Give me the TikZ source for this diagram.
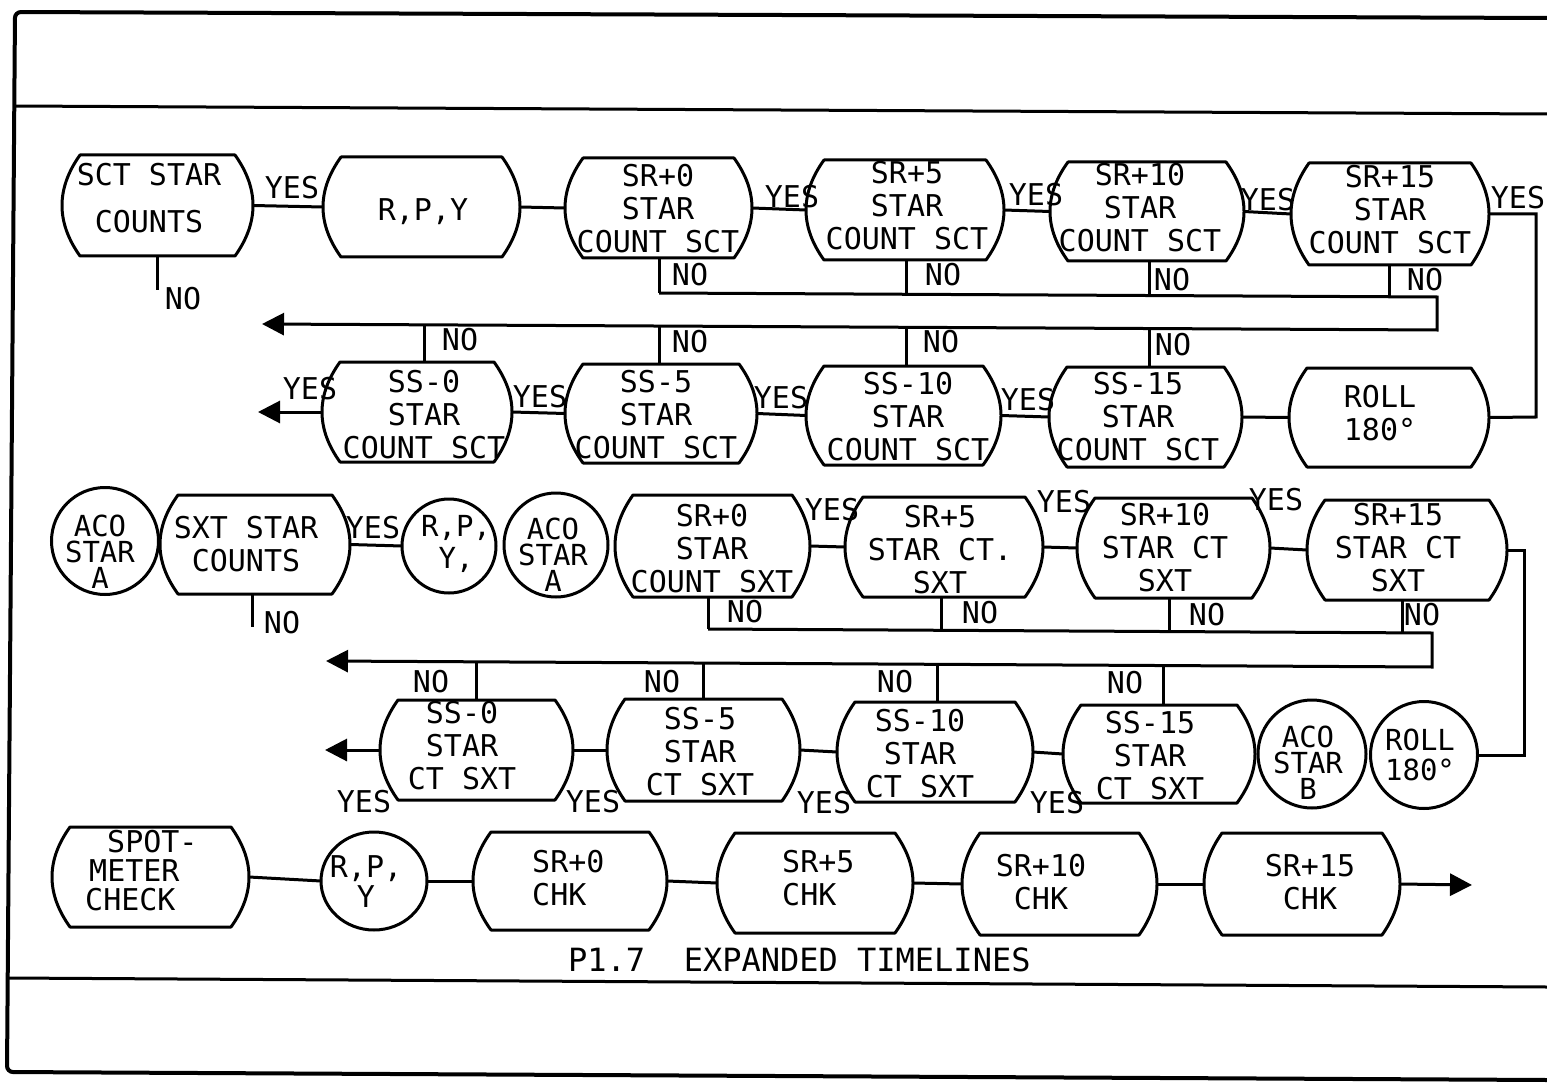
\documentclass[tikz,border=0pt]{standalone}
\usepackage{fontspec}
\newfontfamily\dmono{DejaVu Sans Mono}
\usetikzlibrary{calc,arrows.meta,shapes.geometric}
\def\bxins{18}
\newcommand\PBx[9][]{%
 \node[boxn, minimum width={#5-#3}, minimum height={#6-#4}] (#2) at ({(#3+#5)/2},{(#4+#6)/2}) {};
 \node[txt,#1] (#2t) at (#7,#8) {#9};
 \draw[outl] ($(#2.north west)+(\bxins,0)$) -- ($(#2.north east)+(-\bxins,0)$)
   .. controls ($(#2.north east)+({\bxins/3},{(#6-#4)/3})$) and ($(#2.south east)+({\bxins/3},{-(#6-#4)/3})$) .. ($(#2.south east)+(-\bxins,0)$)
   -- ($(#2.south west)+(\bxins,0)$)
   .. controls ($(#2.south west)+({-\bxins/3},{-(#6-#4)/3})$) and ($(#2.north west)+({-\bxins/3},{(#6-#4)/3})$) .. cycle;
}
\newcommand\CBx[7]{%
 \node[circn, minimum size=#4] (#1) at (#2,#3) {};
 \node[ctxt] (#1t) at (#5,#6) {#7};
}
\newcommand\LBx[4]{\node[lab] (#1) at (#2,#3) {#4};}
\tikzset{
 ln/.style={line width=3pt},
 frm/.style={line width=4pt},
 frm2/.style={line width=3pt},
 outl/.style={line width=3pt, line join=round},
 boxn/.style={rectangle, inner sep=0pt, outer sep=0pt},
 circn/.style={circle, draw, line width=3pt, inner sep=0pt, outer sep=0pt},
 txt/.style={inner sep=0pt, align=center, font=\dmono\fontsize{30}{33}\selectfont},
 ctxt/.style={inner sep=0pt, align=center, font=\dmono\fontsize{29}{26}\selectfont},
 lab/.style={inner sep=0pt, font=\dmono\fontsize{30}{33}\selectfont},
 arr/.style={ln, -{Triangle[length=22pt,width=22pt]}},
}
\begin{document}
\begin{tikzpicture}[x=1pt,y=-1pt]
\useasboundingbox (0,0) rectangle (1547,1083);
\fill[white] (0,0) rectangle (1547,1083);
% frame
\draw[frm, rounded corners=6pt] (1547,18) -- (15,12) -- (7,1072) -- (1547,1080);
\draw[frm2] (14,106) -- (1547,114);
\draw[frm2] (8,978) -- (1547,987);

% ---------- row 1 (SCT) ----------
\PBx{sct}{62}{155}{253}{256}{149}{198.5}{SCT STAR\\[14pt]COUNTS}
\PBx{rpy}{323}{157}{520}{257}{423}{212}{R,P,Y}
\PBx{sra}{565}{158}{752}{258}{658}{209}{SR+0\\STAR\\COUNT SCT}
\PBx{srb}{806}{160}{1004}{260}{907}{206}{SR+5\\STAR\\COUNT SCT}
\PBx{src}{1050}{162}{1244}{261}{1140}{208}{SR+10\\STAR\\COUNT SCT}
\PBx{srd}{1291}{163}{1489}{265}{1390}{210}{SR+15\\STAR\\COUNT SCT}

\PBx{ssa}{322}{362}{512}{462}{424}{415}{SS-0\\STAR\\COUNT SCT}
\PBx{ssb}{565}{364}{757}{463}{656}{415}{SS-5\\STAR\\COUNT SCT}
\PBx{ssc}{806}{366}{1001}{465}{908}{417}{SS-10\\STAR\\COUNT SCT}
\PBx{ssd}{1049}{367}{1242}{467}{1138}{417}{SS-15\\STAR\\COUNT SCT}
\PBx{roll}{1289}{368}{1489}{467}{1380}{413}{ROLL\\180°}

\draw[ln] (sct.east) -- (rpy.west);
\draw[ln] (rpy.east) -- (sra.west);
\draw[ln] (sra.east) -- (srb.west);
\draw[ln] (srb.east) -- (src.west);
\draw[ln] (src.east) -- (srd.west);
\coordinate (ra) at (1536,214);
\coordinate (rb) at (1536,417);
\draw[ln] (srd.east) -- (ra) -- (rb) -- (roll.east);
\draw[ln] (roll.west) -- (ssd.east);
\draw[ln] (ssd.west) -- (ssc.east);
\draw[ln] (ssc.west) -- (ssb.east);
\draw[ln] (ssb.west) -- (ssa.east);
\coordinate (ya) at (258,412);
\draw[arr] (ssa.west) -- (ya);

\coordinate (scn) at (157,290);
\draw[ln] (scn |- sct.south) -- (scn);

\coordinate (ua) at (659,293);
\coordinate (ub) at (906,294.3);
\coordinate (uc) at (1149,295.5);
\coordinate (ud) at (1389,296.8);
\coordinate (ue) at (1437,297);
\coordinate (le) at (1437,330);
\coordinate (la) at (262,324);
\draw[ln] (ua |- sra.south) -- (ua);
\draw[ln] (ub |- srb.south) -- (ub);
\draw[ln] (uc |- src.south) -- (uc);
\draw[ln] (ud |- srd.south) -- (ud);
\draw[arr] (ua) -- (ue) -- (le) -- (la);
\coordinate (lv1) at (424,324.8);
\coordinate (lv2) at (659,326.0);
\coordinate (lv3) at (906,327.3);
\coordinate (lv4) at (1149,328.5);
\draw[ln] (lv1) -- (lv1 |- ssa.north);
\draw[ln] (lv2) -- (lv2 |- ssb.north);
\draw[ln] (lv3) -- (lv3 |- ssc.north);
\draw[ln] (lv4) -- (lv4 |- ssd.north);

\LBx{y1}{292}{188}{YES}
\LBx{y2}{792}{197}{YES}
\LBx{y3}{1036}{195}{YES}
\LBx{y4}{1268}{200}{YES}
\LBx{y5}{1518}{198}{YES}
\LBx{y6}{310}{389}{YES}
\LBx{y7}{540}{397}{YES}
\LBx{y8}{781}{398}{YES}
\LBx{y9}{1028}{400}{YES}
\LBx{n1}{183}{299}{NO}
\LBx{n2}{690}{275}{NO}
\LBx{n3}{943}{275}{NO}
\LBx{n4}{1172}{280}{NO}
\LBx{n5}{1425}{280}{NO}
\LBx{n6}{460}{340}{NO}
\LBx{n7}{690}{342}{NO}
\LBx{n8}{941}{342}{NO}
\LBx{n9}{1173}{345}{NO}

% ---------- row 3 (SXT) ----------
\CBx{acoa}{105}{541}{107}{100}{552}{ACO\\STAR\\A}
\PBx{sxt}{160}{495}{350}{594}{246}{544}{SXT STAR\\COUNTS}
\CBx{rpyc}{449}{546}{94}{456}{544}{R,P,\\[6pt]Y,}
\CBx{acob}{556}{545}{104}{553}{555}{ACO\\STAR\\A}
\PBx{sxa}{615}{495}{810}{597}{712}{549}{SR+0\\STAR\\COUNT SXT}
\PBx{sxb}{845}{497}{1043}{597}{940}{550}{SR+5\\STAR CT.\\SXT}
\PBx{sxc}{1077}{498}{1270}{598}{1165}{548}{SR+10\\STAR CT\\SXT}
\PBx{sxd}{1307}{500}{1507}{600}{1398}{548}{SR+15\\STAR CT\\SXT}

\PBx{sya}{380}{700}{573}{800}{462}{746}{SS-0\\STAR\\CT SXT}
\PBx{syb}{607}{699}{800}{801}{700}{752}{SS-5\\STAR\\CT SXT}
\PBx{syc}{837}{702}{1033}{802}{920}{754}{SS-10\\STAR\\CT SXT}
\PBx{syd}{1063}{705}{1255}{803}{1150}{756}{SS-15\\STAR\\CT SXT}
\CBx{acoc}{1312}{754}{108}{1308}{763}{ACO\\STAR\\B}
\CBx{rollb}{1424}{755}{107}{1420}{755}{ROLL\\[4pt]180°}

\draw[ln] (sxt.east) -- (rpyc.west);
\coordinate (sxn) at (252,627);
\draw[ln] (sxn |- sxt.south) -- (sxn);
\draw[ln] (sxa.east) -- (sxb.west);
\draw[ln] (sxb.east) -- (sxc.west);
\draw[ln] (sxc.east) -- (sxd.west);
\coordinate (rc) at (1524,550);
\coordinate (rd) at (1524,755);
\draw[ln] (sxd.east) -- (rc) -- (rd) -- (rollb.east);

\coordinate (va) at (708,629);
\coordinate (vb) at (941,630.3);
\coordinate (vc) at (1169,631.5);
\coordinate (vd) at (1402,632.8);
\coordinate (ve) at (1432,633);
\coordinate (me) at (1432,667);
\coordinate (ma) at (326,661);
\draw[ln] (va |- sxa.south) -- (va);
\draw[ln] (vb |- sxb.south) -- (vb);
\draw[ln] (vc |- sxc.south) -- (vc);
\draw[ln] (vd |- sxd.south) -- (vd);
\draw[arr] (va) -- (ve) -- (me) -- (ma);
\coordinate (mv1) at (476,661.8);
\coordinate (mv2) at (703,663.0);
\coordinate (mv3) at (937,664.3);
\coordinate (mv4) at (1163,665.5);
\draw[ln] (mv1) -- (mv1 |- sya.north);
\draw[ln] (mv2) -- (mv2 |- syb.north);
\draw[ln] (mv3) -- (mv3 |- syc.north);
\draw[ln] (mv4) -- (mv4 |- syd.north);
\draw[ln] (sya.east) -- (syb.west);
\draw[ln] (syb.east) -- (syc.west);
\draw[ln] (syc.east) -- (syd.west);
\coordinate (yb) at (325,750);
\draw[arr] (sya.west) -- (yb);

\LBx{y10}{373}{528}{YES}
\LBx{y11}{832}{510}{YES}
\LBx{y12}{1064}{502}{YES}
\LBx{y13}{1276}{500}{YES}
\LBx{y14}{364}{802}{YES}
\LBx{y15}{593}{802}{YES}
\LBx{y16}{824}{803}{YES}
\LBx{y17}{1057}{803}{YES}
\LBx{n10}{282}{623}{NO}
\LBx{n11}{745}{612}{NO}
\LBx{n12}{980}{613}{NO}
\LBx{n13}{1207}{615}{NO}
\LBx{n14}{1422}{615}{NO}
\LBx{n15}{431}{682}{NO}
\LBx{n16}{662}{682}{NO}
\LBx{n17}{895}{682}{NO}
\LBx{n18}{1125}{683}{NO}

% ---------- bottom row ----------
\PBx[align=left,anchor=west,font=\dmono\fontsize{30}{29}\selectfont]{spot}{52}{827}{249}{927}{85}{871}{\hspace*{22pt}SPOT-\\\hspace*{4pt}METER\\CHECK}
\node[ellipse, draw, line width=3pt, inner sep=0pt, outer sep=0pt, minimum width=106, minimum height=98] (rpyd) at (374,881) {};
\node[txt, font=\dmono\fontsize{30}{30}\selectfont] (rpydt) at (366,882) {R,P,\\Y};
\PBx[align=left,anchor=west]{ka}{473}{832}{667}{930}{532}{878}{SR+0\\CHK}
\PBx[align=left,anchor=west]{kb}{717}{833}{913}{933}{782}{878}{SR+5\\CHK}
\PBx{kc}{962}{833}{1157}{935}{1041}{882}{SR+10\\CHK}
\PBx{kd}{1204}{833}{1400}{935}{1310}{882}{SR+15\\CHK}
\draw[ln] (spot.east) -- (rpyd.west);
\draw[ln] (rpyd.east) -- (ka.west);
\draw[ln] (ka.east) -- (kb.west);
\draw[ln] (kb.east) -- (kc.west);
\draw[ln] (kc.east) -- (kd.west);
\coordinate (kend) at (1472,885);
\draw[arr] (kd.east) -- (kend);

\node[lab, anchor=west, font=\dmono\fontsize{32}{34}\selectfont] (cap) at (568,960) {P1.7\ \ EXPANDED TIMELINES};
\end{tikzpicture}
\end{document}
